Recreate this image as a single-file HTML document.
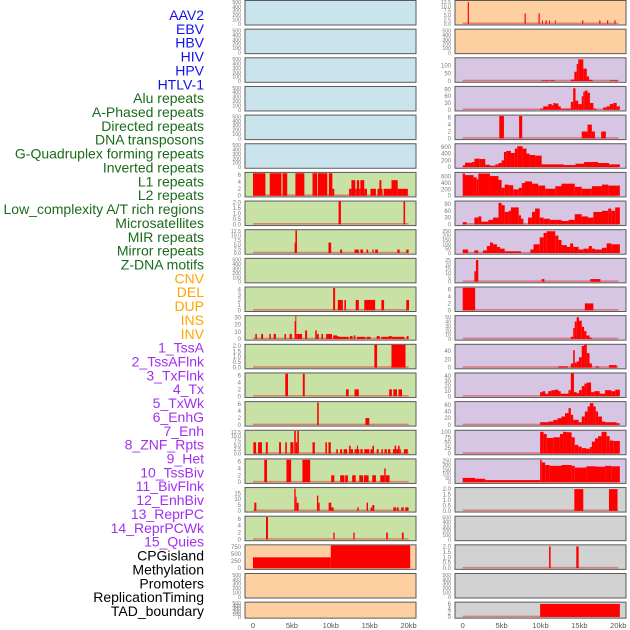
<!DOCTYPE html>
<html><head><meta charset="utf-8">
<style>
html,body{margin:0;padding:0;background:#fff;width:630px;height:630px;overflow:hidden}
svg{display:block}
</style></head>
<body>
<svg id="chart" width="630" height="630" xmlns="http://www.w3.org/2000/svg"></svg>
<script>
// ---- data ----
const trackLabels = ["AAV2","EBV","HBV","HIV","HPV","HTLV-1","Alu repeats","A-Phased repeats","Directed repeats","DNA transposons","G-Quadruplex forming repeats","Inverted repeats","L1 repeats","L2 repeats","Low_complexity A/T rich regions","Microsatellites","MIR repeats","Mirror repeats","Z-DNA motifs","CNV","DEL","DUP","INS","INV","1_TssA","2_TssAFlnk","3_TxFlnk","4_Tx","5_TxWk","6_EnhG","7_Enh","8_ZNF_Rpts","9_Het","10_TssBiv","11_BivFlnk","12_EnhBiv","13_ReprPC","14_ReprPCWk","15_Quies","CPGisland","Methylation","Promoters","ReplicationTiming","TAD_boundary"];
const labelGroups = ["virus","virus","virus","virus","virus","virus","rep","rep","rep","rep","rep","rep","rep","rep","rep","rep","rep","rep","rep","sv","sv","sv","sv","sv","hmm","hmm","hmm","hmm","hmm","hmm","hmm","hmm","hmm","hmm","hmm","hmm","hmm","hmm","hmm","other","other","other","other","other"];
const xTickLabels = ["0","5kb","10kb","15kb","20kb"];
const xTickValues = [0,5,10,15,20];

const leftFill = ["blue","blue","blue","blue","blue","blue","green","green","green","green","green","green","green","green","green","green","green","green","green","orange","orange","orange"];
const rightFill = ["orange","orange","purple","purple","purple","purple","purple","purple","purple","purple","purple","purple","purple","purple","purple","purple","purple","gray","gray","gray","gray","gray"];

const T_EMPTY = ["0","100","200","300","400","500"];
const T_2 = ["0.0","0.5","1.0","1.5","2.0"];
const T_125 = ["0.0","2.5","5.0","7.5","10.0","12.5"];
const T_6 = ["0","2","4","6"];

const leftTicks = [T_EMPTY,T_EMPTY,T_EMPTY,T_EMPTY,T_EMPTY,T_EMPTY,T_6,T_2,T_125,T_EMPTY,["0","1","2","3","4"],["0","10","20","30"],T_2,T_6,T_6,T_125,T_6,["0","5","10","15"],T_6,["0","250","500","750"],T_EMPTY,T_EMPTY];
const leftYMax = [520,520,520,520,520,520,6.6,2.1,13.1,520,4.4,32,2.1,6.6,6.6,13.1,6.6,19.5,6.6,800,520,520];
const rightTicks = [T_125,T_EMPTY,["0","50","100"],["0","30","60","90"],T_6,["0","200","400","600"],["0","200","400","600"],["0","30","60","90"],["0","50","100","150","200","250"],["0","5","10","15","20","25"],T_6,["0","10","20","30","40","50"],["0","20","40"],["0","10","20","30","40"],["0","20","40","60"],["0","25","50","75","100"],["0","50","100","150","200","250"],T_2,T_EMPTY,T_2,T_EMPTY,T_6];
const rightYMax = [13.1,520,147,101,6.6,680,720,101,262,26.3,6.6,52.5,55,45,68,105,265,2.1,520,2.1,520,6.6];

// segments: [startKb, endKb, value]
const leftData = [[],[],[],[],[],[],
[[0,1.6,6.5],[2.15,3.65,6.5],[3.8,4.4,6.5],[5.45,6.6,6.5],[7.65,8.25,6.5],[8.35,9.55,6.5],[9.75,10.2,6.5],[10.2,10.45,2],[12.35,12.65,2],[12.65,13.15,4.5],[13.15,13.35,2],[13.35,13.65,4.5],[13.65,13.8,2],[13.8,14.3,4.5],[14.3,14.65,2],[15.1,15.8,2],[16.0,16.25,2],[16.25,16.5,4.5],[16.5,16.65,2],[16.8,17.8,2],[17.8,18.6,4.5],[18.6,19.9,2]],
[[11.0,11.3,2.1],[19.35,19.55,2.1]],
[[5.35,5.45,6],[5.45,5.65,13],[9.7,10.05,6],[11.2,11.45,2],[13.05,13.6,2],[13.8,14.15,2],[14.6,14.8,2],[15.35,15.5,2],[15.7,16.05,2],[18.55,18.85,2],[19.7,20.0,2]],
[],
[[10.3,10.55,4.3],[10.9,11.55,2],[11.75,11.95,2],[13.2,13.6,2],[14.3,15.7,2],[16.5,16.85,2],[19.7,20.05,2]],
[[0.3,0.5,7],[1.05,1.3,7],[2.1,2.3,7],[2.65,2.95,7],[4.05,4.25,7],[4.7,5.0,7],[5.35,5.45,25],[5.45,5.55,32],[5.55,5.7,7],[5.7,6.3,7],[6.7,6.95,12],[8.0,8.2,12],[8.2,8.45,7],[8.8,9.0,7],[9.4,10.15,7],[10.3,10.8,5],[10.8,11.0,4],[11.0,12.3,3],[12.45,12.8,4],[12.95,13.15,5],[13.35,14.45,3],[14.6,15.1,3],[15.9,16.3,4],[16.5,17.45,3],[17.45,17.85,4],[17.85,19.45,3],[19.75,20.0,4]],
[[15.6,15.95,2.1],[17.8,19.6,2.1]],
[[4.15,4.5,6.5],[6.4,6.65,6.5],[11.95,12.3,2],[13.05,13.6,2],[17.5,17.85,2],[18.05,18.5,2],[18.7,19.15,2]],
[[8.25,8.45,6.5],[14.45,14.95,2]],
[[0.05,0.4,6.5],[0.65,1.15,6.5],[1.65,1.9,6.5],[3.35,3.6,6.5],[4.15,4.35,6.5],[4.8,5.2,6.5],[5.3,5.5,13],[5.5,5.7,6.5],[5.7,5.9,13],[7.65,7.95,6.5],[9.3,9.5,6.5],[9.7,10.0,6.5],[10.7,10.9,2.5],[11.2,11.45,2.5],[11.65,12.1,2.5],[12.35,12.55,4.5],[12.55,12.85,2.5],[13.05,13.35,2.5],[13.35,13.5,4.5],[13.5,13.65,2.5],[13.8,14.1,2.5],[14.3,14.95,2.5],[15.1,15.35,2.5],[15.35,15.55,4.5],[15.9,16.15,2.5],[16.5,16.7,2.5],[16.9,17.2,2.5],[17.35,17.65,2.5],[17.99,18.2,2.5],[18.2,18.4,4.5],[18.4,18.65,2.5],[18.65,18.85,4.5],[18.85,19.0,2.5],[19.4,19.9,2.5]],
[[1.45,1.8,6.5],[4.3,4.9,6.5],[6.35,7.35,6.5],[10.05,10.45,2],[11.2,11.75,2],[11.85,12.2,2],[12.75,13.2,2],[13.66,14.15,2],[14.26,14.86,2],[15.33,15.8,2],[16.36,16.87,2],[16.87,17.05,4],[17.05,17.55,2]],
[[0.17,0.43,7],[5.31,5.48,19],[5.48,5.61,12],[5.61,5.87,7],[8.22,8.39,13],[8.39,8.57,7],[9.72,10.06,7],[10.06,10.36,3],[13.4,13.58,3],[14.6,14.78,7],[15.12,15.33,3],[15.33,15.59,5],[18.03,18.37,3],[18.46,18.72,3],[19.06,19.36,3],[19.57,20.0,3]],
[[1.67,1.93,6.5],[10.32,10.49,2],[12.89,13.06,2],[17.13,17.34,2],[19.14,19.36,2]],
[[0,10.0,380],[10.0,20.2,800]],
[],[]];

const rightData = [
[[0.65,0.8,12.5],[7.95,8.1,6],[9.75,9.9,6],[10.2,10.3,2],[10.65,10.8,2],[11.1,11.2,2],[11.85,11.95,2],[15.35,15.5,2],[17.55,17.7,2],[18.55,18.7,2],[19.5,19.65,2]],
[],
[[10.15,11.1,5],[11.2,11.85,5],[13.9,14.35,10],[14.35,14.65,60],[14.65,14.85,110],[14.85,15.5,140],[15.5,15.95,80],[15.95,16.25,30],[16.25,16.7,8],[18.9,20.0,5]],
[[9.95,10.35,5],[10.35,11.0,15],[11.0,11.45,25],[11.45,11.65,20],[11.65,11.85,30],[11.85,12.3,28],[12.3,12.6,15],[12.6,13.9,5],[13.9,14.2,35],[14.2,14.5,95],[14.5,14.85,40],[14.85,15.3,25],[15.3,15.5,60],[15.5,15.7,80],[15.7,16.05,85],[16.05,16.35,75],[16.35,16.8,30],[16.8,17.2,5],[18.05,18.5,10],[18.5,18.9,15],[18.9,19.35,25],[19.35,19.8,30],[19.8,20.2,15]],
[[4.7,5.3,6.5],[7.25,7.65,6.5],[15.3,16.05,2],[16.05,16.6,4],[16.6,17.0,2],[17.8,18.4,2]],
[[0,0.3,50],[0.3,1.2,130],[1.2,1.5,150],[1.5,2.2,250],[2.2,2.9,240],[2.9,3.5,70],[3.5,4.2,40],[4.2,4.6,80],[4.6,5.0,120],[5.0,5.3,200],[5.3,5.6,450],[5.6,6.2,480],[6.2,6.7,420],[6.7,7.0,550],[7.0,7.7,620],[7.7,8.2,550],[8.2,8.6,400],[8.6,9.3,360],[9.3,10.15,340],[10.15,13.0,80],[13.0,14.5,60],[14.5,15.6,100],[15.6,17.4,150],[17.4,18.8,120],[18.8,20.2,80]],
[[0,0.3,700],[0.3,1.4,650],[1.4,1.8,580],[1.8,2.0,520],[2.0,3.5,700],[3.5,4.6,620],[4.6,5.0,500],[5.0,5.4,250],[5.4,5.9,350],[5.9,6.5,330],[6.5,7.2,200],[7.2,7.6,250],[7.6,8.0,400],[8.0,8.9,450],[8.9,9.7,380],[9.7,10.6,320],[10.6,11.9,220],[11.9,12.7,300],[12.7,14.4,380],[14.4,15.3,280],[15.3,16.6,220],[16.6,17.9,300],[17.9,18.7,350],[18.7,20.2,320]],
[[0,0.5,10],[1.5,2.0,30],[2.0,2.4,35],[2.4,3.3,12],[3.3,3.9,20],[3.9,4.6,30],[4.6,5.0,95],[5.0,5.4,85],[5.4,5.9,55],[5.9,6.2,60],[6.2,7.2,75],[7.2,7.5,40],[7.5,7.8,25],[8.4,8.9,30],[8.9,9.3,55],[9.3,9.9,70],[9.9,10.4,30],[10.4,11.2,25],[11.2,12.1,20],[12.1,12.7,20],[12.7,13.6,15],[13.6,14.4,20],[14.4,15.3,45],[15.3,16.1,35],[16.1,16.8,30],[16.8,17.9,55],[17.9,18.7,60],[18.7,19.1,70],[19.1,19.6,60],[19.6,20.2,75]],
[[0,0.7,40],[1.5,2.0,30],[2.6,3.1,30],[3.1,3.5,80],[3.5,3.9,120],[3.9,4.4,100],[4.4,4.8,70],[4.8,5.4,50],[5.4,6.9,20],[6.9,7.5,20],[8.7,9.1,40],[9.1,9.9,100],[9.9,10.4,180],[10.4,10.8,230],[10.8,11.9,250],[11.9,12.3,200],[12.3,12.7,150],[12.7,13.4,90],[13.4,13.8,70],[13.8,14.2,110],[14.2,14.9,70],[14.9,15.5,40],[15.5,16.2,50],[16.2,16.6,80],[16.6,17.0,50],[17.0,17.9,40],[17.9,18.5,60],[18.5,19.1,110],[19.1,20.2,100]],
[[1.5,1.7,12],[1.7,2.0,25],[10.15,10.5,3],[16.4,17.7,3]],
[[0,1.6,6.5],[15.7,16.8,2]],
[[13.9,14.2,5],[14.2,14.4,25],[14.4,14.65,40],[14.65,14.95,50],[14.95,15.3,42],[15.3,15.6,28],[15.6,15.9,18],[15.9,16.3,8],[16.3,16.6,3]],
[[12.3,13.5,3],[13.9,14.2,10],[14.2,14.4,42],[14.4,14.65,12],[14.65,14.95,15],[14.95,15.3,25],[15.3,15.6,52],[15.6,15.95,55],[15.95,16.3,35],[16.3,16.6,10],[17.1,17.5,3],[18.8,19.8,6]],
[[9.95,10.25,8],[10.25,10.6,10],[10.6,11.0,5],[11.0,11.4,10],[11.4,11.85,12],[11.85,12.3,13],[12.3,12.6,10],[12.6,13.6,5],[13.6,13.9,12],[13.9,14.3,45],[14.3,14.65,8],[14.65,14.95,6],[14.95,15.3,12],[15.3,15.65,20],[15.65,15.95,25],[15.95,16.5,27],[16.5,16.9,8],[16.9,17.6,10],[17.6,18.3,5],[18.3,19.1,12],[19.1,19.6,10],[19.6,20.2,13]],
[[9.95,11.0,8],[11.0,11.65,10],[11.65,12.2,15],[12.2,12.7,20],[12.7,13.15,25],[13.15,13.6,35],[13.6,13.9,50],[13.9,14.2,30],[14.2,14.9,15],[14.9,15.3,8],[15.3,15.7,25],[15.7,16.05,40],[16.05,16.35,55],[16.35,16.8,65],[16.8,17.1,55],[17.1,17.4,40],[17.4,17.9,25],[17.9,18.3,10],[18.3,19.8,8],[19.8,20.2,5]],
[[9.95,10.4,100],[10.4,10.8,90],[10.8,11.65,72],[11.65,12.5,75],[12.5,12.9,90],[12.9,13.35,100],[13.35,14.0,98],[14.0,14.4,75],[14.4,14.85,40],[14.85,15.3,32],[15.3,15.9,25],[15.9,16.35,22],[16.35,16.6,30],[16.6,17.0,55],[17.0,17.4,70],[17.4,17.85,80],[17.85,18.5,100],[18.5,18.9,80],[18.9,19.35,60],[19.35,20.2,58]],
[[0,1.6,50],[1.6,2.9,40],[2.9,9.95,25],[9.95,10.15,260],[10.15,10.6,230],[10.6,11.2,200],[11.2,12.7,190],[12.7,14.0,200],[14.0,14.4,190],[14.4,15.9,170],[15.9,17.2,185],[17.2,18.3,180],[18.3,19.1,190],[19.1,20.2,185]],
[[14.35,15.5,2],[18.8,19.9,2]],
[],
[[11.1,11.3,2],[14.6,14.9,2]],
[],
[[9.95,20.2,6]]
];

// ---- rendering ----
const NS = "http://www.w3.org/2000/svg";
const svg = document.getElementById("chart");
const FILLS = {blue:"#c9e4ec",green:"#c8e1a5",orange:"#fecfa0",purple:"#d7c6e3",gray:"#d2d2d2"};
const LCOL = {virus:"#1010ee",rep:"#1a6b1a",sv:"#ffa500",hmm:"#a030f0",other:"#000000"};
const KB_PX = 7.78;
const cols = [{x0:245,x1:416,zero:253},{x0:455,x1:626,zero:462.7}];
function mk(tag, attrs, parent){const e=document.createElementNS(NS,tag);for(const k in attrs)e.setAttribute(k,attrs[k]);(parent||svg).appendChild(e);return e;}
function rowTop(i){return 0.5+28.65*i;}
function rowH(i){return i===21?16:24.5;}

// labels
trackLabels.forEach((t,i)=>{
  const e=mk("text",{x:204,y:15+13.86*i+5,"text-anchor":"end","font-family":"Liberation Sans, sans-serif","font-size":14,fill:LCOL[labelGroups[i]]});
  e.textContent=t;
  
  
});

function drawPanel(c, i, fillKey, ticks, yMax, data, name){
  const col=cols[c], T=rowTop(i), H=rowH(i);
  const g=mk("g",{});
  
  
  mk("rect",{x:col.x0,y:T,width:col.x1-col.x0,height:H,fill:FILLS[fillKey],stroke:"#5a5a5a","stroke-width":1},g);
  const yb=T+H-1.2, ytop=T+0.5;
  const ys=v=>yb-(v/yMax)*(yb-ytop);
  const xs=kb=>col.zero+kb*KB_PX;
  const nt=ticks.length;
  ticks.forEach((lab,k)=>{
    const v=parseFloat(lab);
    const tt=mk("text",{x:col.x0-4,y:ys(v)+2,"text-anchor":"end","font-family":"Liberation Sans, sans-serif","font-size":nt>5?5.2:6,fill:"#7a7a7a"},g);
    tt.textContent=lab;
    
    
  });
  if(data.length){
    mk("line",{x1:xs(0),x2:xs(20),y1:yb-0.5,y2:yb-0.5,stroke:"rgba(220,60,60,0.55)","stroke-width":1.6},g);
    data.forEach(s=>{
      const x=xs(s[0]), w=Math.max(0.9,xs(s[1])-x), y=ys(Math.min(s[2],yMax));
      const r=mk("rect",{x:x,y:y,width:w,height:Math.max(0,yb-y),fill:"#ff0000"},g);
      
      
    });
  }
}
for(let i=0;i<22;i++){
  drawPanel(0,i,leftFill[i],leftTicks[i],leftYMax[i],leftData[i],'panel-'+trackLabels[i].toLowerCase().replace(/[^a-z0-9]+/g,'-'));
  drawPanel(1,i,rightFill[i],rightTicks[i],rightYMax[i],rightData[i],'panel-'+trackLabels[22+i].toLowerCase().replace(/[^a-z0-9]+/g,'-'));
}
// x axes
cols.forEach((col,c)=>{
  xTickValues.forEach((v,k)=>{
    const t=mk("text",{x:col.zero+v*KB_PX,y:628,"text-anchor":"middle","font-family":"Liberation Sans, sans-serif","font-size":7.5,fill:"#555"});
    t.textContent=xTickLabels[k];
    
    
  });
});
</script>
</body></html>
